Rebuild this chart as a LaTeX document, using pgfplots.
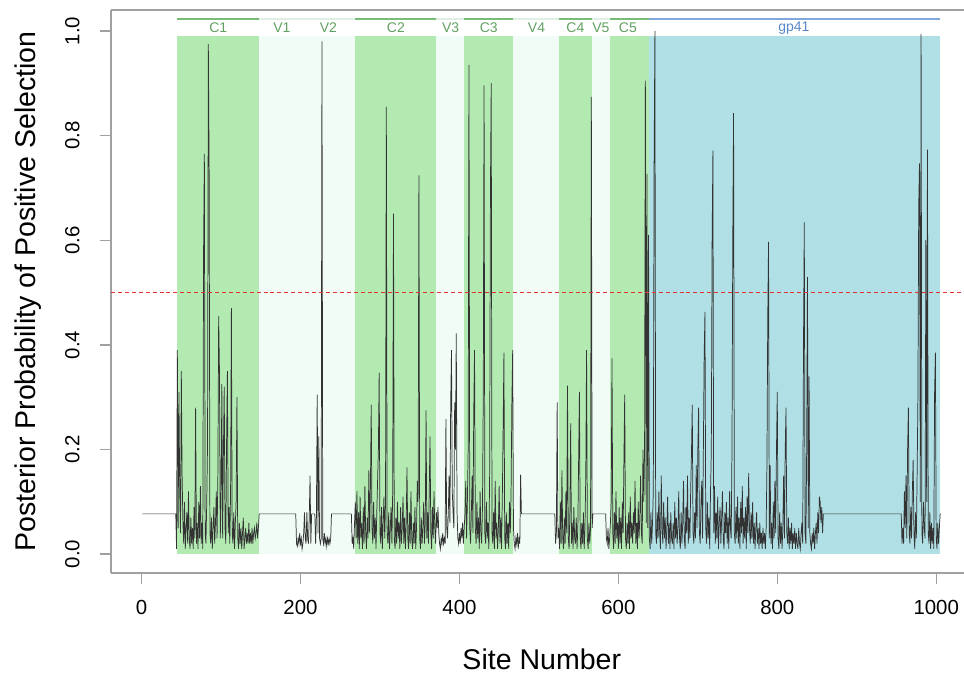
\documentclass[border=0pt]{standalone}
\usepackage{fontspec}
\setmainfont{Liberation Sans}
\usepackage{pgfplots}
\pgfplotsset{compat=1.18}

\definecolor{cgreen}{RGB}{178,234,178}
\definecolor{vpale}{RGB}{240,252,245}
\definecolor{gpblue}{RGB}{176,223,229}
\definecolor{cline}{RGB}{120,188,120}
\definecolor{vline}{RGB}{222,238,226}
\definecolor{gpline}{RGB}{128,168,220}
\definecolor{clabel}{RGB}{96,160,96}
\definecolor{gplabel}{RGB}{88,136,200}
\definecolor{framegray}{RGB}{160,160,160}
\definecolor{sitered}{RGB}{228,50,50}

\begin{document}
\begin{tikzpicture}
\path[use as bounding box] (0,0) rectangle (723pt,505.5pt);
\begin{axis}[
    at={(83.25pt,75.75pt)}, anchor=south west,
    scale only axis, width=639.75pt, height=422.25pt,
    xmin=-38.5, xmax=1035, ymin=-0.036, ymax=1.04,
    axis x line*=bottom, axis y line*=left,
    axis line style={framegray, line width=1pt},
    xtick={0,200,400,600,800,1000},
    ytick={0,0.2,0.4,0.6,0.8,1},
    tick align=outside, major tick length=8pt,
    tick style={framegray, line width=1pt},
    /pgf/number format/assume math mode=true,
    /pgf/number format/1000 sep={},
    tick label style={font=\fontsize{15.3}{18}\selectfont},
    x tick label style={yshift=-9pt},
    y tick label style={/pgf/number format/.cd, fixed, fixed zerofill, precision=1, /tikz/.cd, rotate=90, anchor=south, yshift=12pt},
    xlabel={Site Number},
    ylabel={Posterior Probability of Positive Selection},
    every axis x label/.style={at={([yshift=-57pt]rel axis cs:0.505,0)}, anchor=north, inner sep=0pt, font=\fontsize{21.4}{25}\selectfont},
    every axis y label/.style={at={([xshift=-72pt]rel axis cs:0,0.5)}, rotate=90, anchor=north, inner sep=0pt, font=\fontsize{21.4}{25}\selectfont},
]
% region blocks
\addplot[fill=cgreen, draw=none] coordinates {(45,0) (45,0.99) (148,0.99) (148,0)} -- cycle;
\addplot[fill=vpale, draw=none] coordinates {(148,0) (148,0.99) (269,0.99) (269,0)} -- cycle;
\addplot[fill=cgreen, draw=none] coordinates {(269,0) (269,0.99) (371,0.99) (371,0)} -- cycle;
\addplot[fill=vpale, draw=none] coordinates {(371,0) (371,0.99) (406,0.99) (406,0)} -- cycle;
\addplot[fill=cgreen, draw=none] coordinates {(406,0) (406,0.99) (468,0.99) (468,0)} -- cycle;
\addplot[fill=vpale, draw=none] coordinates {(468,0) (468,0.99) (525,0.99) (525,0)} -- cycle;
\addplot[fill=cgreen, draw=none] coordinates {(525,0) (525,0.99) (567,0.99) (567,0)} -- cycle;
\addplot[fill=vpale, draw=none] coordinates {(567,0) (567,0.99) (590,0.99) (590,0)} -- cycle;
\addplot[fill=cgreen, draw=none] coordinates {(590,0) (590,0.99) (638,0.99) (638,0)} -- cycle;
\addplot[fill=gpblue, draw=none] coordinates {(638,0) (638,0.99) (1005,0.99) (1005,0)} -- cycle;
% region bars on top
\addplot[cline, line width=2pt] coordinates {(45,1.023) (148,1.023)};
\addplot[vline, line width=2pt] coordinates {(148,1.023) (269,1.023)};
\addplot[cline, line width=2pt] coordinates {(269,1.023) (371,1.023)};
\addplot[vline, line width=2pt] coordinates {(371,1.023) (406,1.023)};
\addplot[cline, line width=2pt] coordinates {(406,1.023) (468,1.023)};
\addplot[vline, line width=2pt] coordinates {(468,1.023) (525,1.023)};
\addplot[cline, line width=2pt] coordinates {(525,1.023) (567,1.023)};
\addplot[vline, line width=2pt] coordinates {(567,1.023) (590,1.023)};
\addplot[cline, line width=2pt] coordinates {(590,1.023) (638,1.023)};
\addplot[gpline, line width=2pt] coordinates {(638,1.023) (1005,1.023)};
\begin{scope}[every node/.style={font=\fontsize{10.5}{12}\selectfont, inner sep=0pt}]
\node[text=clabel] at (axis cs:96.5,1.006) {C1};
\node[text=clabel] at (axis cs:176.5,1.006) {V1};
\node[text=clabel] at (axis cs:235,1.006) {V2};
\node[text=clabel] at (axis cs:320,1.006) {C2};
\node[text=clabel] at (axis cs:389,1.006) {V3};
\node[text=clabel] at (axis cs:437,1.006) {C3};
\node[text=clabel] at (axis cs:497,1.006) {V4};
\node[text=clabel] at (axis cs:546,1.006) {C4};
\node[text=clabel] at (axis cs:578,1.006) {V5};
\node[text=clabel] at (axis cs:612,1.006) {C5};
\node[text=gplabel] at (axis cs:821,1.006) {gp41};
\end{scope}
% posterior probabilities per site
\addplot[black!80, line width=0.55pt] coordinates {
(1,0.077)(43,0.077)(44,0.01)(45,0.39)(46,0.05)(47,0.31)(48,0.12)(49,0.04)(50,0.35)(51,0.15)(52,0.06)
(53,0.02)(54,0.1)(55,0.01)(56,0.05)(57,0.08)(58,0.02)(59,0.12)(60,0.03)(61,0.01)(62,0.07)
(63,0.02)(64,0.05)(65,0.01)(66,0.09)(67,0.03)(68,0.28)(69,0.02)(70,0.06)(71,0.01)(72,0.1)
(73,0.03)(74,0.13)(75,0.02)(76,0.06)(77,0.01)(78,0.58)(79,0.765)(80,0.04)(81,0.02)(82,0.1)
(83,0.21)(84,0.975)(85,0.735)(86,0.04)(87,0.02)(88,0.07)(89,0.01)(90,0.05)(91,0.09)(92,0.02)
(93,0.06)(94,0.12)(95,0.03)(96,0.15)(97,0.455)(98,0.35)(99,0.03)(100,0.1)(101,0.325)(102,0.03)
(103,0.2)(104,0.32)(105,0.05)(106,0.02)(107,0.22)(108,0.35)(109,0.04)(110,0.09)(111,0.02)(112,0.12)
(113,0.47)(114,0.04)(115,0.02)(116,0.08)(117,0.01)(118,0.06)(119,0.1)(120,0.3)(121,0.03)(122,0.01)
(123,0.06)(124,0.02)(125,0.05)(126,0.01)(127,0.04)(128,0.07)(129,0.01)(130,0.03)(131,0.05)(132,0.02)
(133,0.04)(134,0.02)(135,0.06)(136,0.02)(137,0.04)(138,0.02)(139,0.05)(140,0.02)(141,0.04)(142,0.05)
(143,0.03)(144,0.04)(145,0.06)(146,0.03)(147,0.05)(148,0.077)
(194,0.077)(195,0.02)(196,0.015)(197,0.03)(198,0.02)(199,0.04)(200,0.02)(201,0.03)(202,0.01)(203,0.02)(204,0.04)
(205,0.08)(206,0.03)(207,0.02)(208,0.08)(209,0.03)(210,0.02)(211,0.07)(212,0.15)(213,0.02)(214,0.077)
(218,0.077)(219,0.02)(220,0.07)(221,0.305)(222,0.04)(223,0.225)(224,0.03)(225,0.02)(226,0.03)(227,0.98)
(228,0.03)(229,0.02)(230,0.04)(231,0.02)(232,0.03)(233,0.015)(234,0.03)(235,0.02)(236,0.03)(237,0.02)(238,0.03)
(239,0.077)(264,0.077)(265,0.02)
(266,0.03)(267,0.01)(268,0.06)(269,0.1)(270,0.03)(271,0.12)(272,0.02)(273,0.08)(274,0.01)(275,0.11)
(276,0.03)(277,0.06)(278,0.01)(279,0.09)(280,0.02)(281,0.13)(282,0.04)(283,0.01)(284,0.07)(285,0.03)
(286,0.16)(287,0.04)(288,0.13)(289,0.286)(290,0.05)(291,0.02)(292,0.1)(293,0.03)(294,0.07)(295,0.01)
(296,0.08)(297,0.14)(298,0.2)(299,0.347)(300,0.04)(301,0.02)(302,0.09)(303,0.01)(304,0.06)(305,0.11)
(306,0.03)(307,0.1)(308,0.855)(309,0.04)(310,0.02)(311,0.08)(312,0.01)(313,0.05)(314,0.09)(315,0.02)
(316,0.12)(317,0.651)(318,0.03)(319,0.01)(320,0.07)(321,0.02)(322,0.1)(323,0.03)(324,0.06)(325,0.01)
(326,0.09)(327,0.02)(328,0.05)(329,0.11)(330,0.02)(331,0.07)(332,0.01)(333,0.06)(334,0.166)(335,0.03)
(336,0.01)(337,0.08)(338,0.02)(339,0.12)(340,0.03)(341,0.01)(342,0.06)(343,0.02)(344,0.09)(345,0.01)
(346,0.05)(347,0.14)(348,0.1)(349,0.724)(350,0.03)(351,0.01)(352,0.07)(353,0.02)(354,0.05)(355,0.1)
(356,0.02)(357,0.06)(358,0.275)(359,0.03)(360,0.08)(361,0.02)(362,0.12)(363,0.225)(364,0.04)(365,0.01)
(366,0.09)(367,0.03)(368,0.12)(369,0.05)(370,0.02)(371,0.08)
(372,0.05)(373,0.09)(374,0.04)(375,0.02)(376,0.01)(377,0.03)(378,0.02)(379,0.04)(380,0.02)(381,0.03)
(382,0.02)(383,0.258)(384,0.05)(385,0.03)(386,0.08)(387,0.15)(388,0.06)(389,0.29)(390,0.39)(391,0.12)
(392,0.08)(393,0.05)(394,0.29)(395,0.2)(396,0.422)(397,0.08)(398,0.03)(399,0.02)(400,0.04)(401,0.02)
(402,0.05)(403,0.03)(404,0.06)(405,0.02)(406,0.05)
(407,0.08)(408,0.14)(409,0.03)(410,0.1)(411,0.2)(412,0.935)(413,0.05)(414,0.02)(415,0.08)(416,0.15)
(417,0.04)(418,0.27)(419,0.39)(420,0.05)(421,0.02)(422,0.1)(423,0.03)(424,0.07)(425,0.01)(426,0.12)
(427,0.04)(428,0.02)(429,0.09)(430,0.3)(431,0.896)(432,0.04)(433,0.02)(434,0.1)(435,0.03)(436,0.06)
(437,0.01)(438,0.15)(439,0.69)(440,0.9)(441,0.04)(442,0.02)(443,0.08)(444,0.01)(445,0.14)(446,0.03)
(447,0.06)(448,0.01)(449,0.05)(450,0.13)(451,0.02)(452,0.07)(453,0.01)(454,0.11)(455,0.24)(456,0.385)
(457,0.03)(458,0.01)(459,0.08)(460,0.02)(461,0.06)(462,0.01)(463,0.1)(464,0.04)(465,0.12)(466,0.29)
(467,0.39)(468,0.05)
(469,0.02)(470,0.01)(471,0.03)(472,0.02)(473,0.04)(474,0.01)(475,0.03)(476,0.02)(477,0.152)(478,0.077)
(520,0.077)(521,0.02)(522,0.04)(523,0.29)(524,0.03)
(525,0.05)(526,0.01)(527,0.1)(528,0.02)(529,0.16)(530,0.03)(531,0.01)(532,0.07)(533,0.02)(534,0.12)
(535,0.04)(536,0.322)(537,0.03)(538,0.01)(539,0.08)(540,0.25)(541,0.02)(542,0.06)(543,0.01)(544,0.09)
(545,0.03)(546,0.02)(547,0.07)(548,0.01)(549,0.05)(550,0.18)(551,0.31)(552,0.03)(553,0.01)(554,0.06)
(555,0.02)(556,0.08)(557,0.01)(558,0.05)(559,0.15)(560,0.39)(561,0.03)(562,0.01)(563,0.06)(564,0.02)
(565,0.05)(566,0.874)(567,0.05)(568,0.077)
(584,0.077)(585,0.03)(586,0.02)(587,0.05)(588,0.01)(589,0.03)
(590,0.06)(591,0.1)(592,0.374)(593,0.04)(594,0.01)(595,0.08)(596,0.02)(597,0.12)(598,0.03)(599,0.06)
(600,0.01)(601,0.09)(602,0.02)(603,0.07)(604,0.01)(605,0.1)(606,0.04)(607,0.18)(608,0.305)(609,0.03)
(610,0.01)(611,0.06)(612,0.02)(613,0.08)(614,0.01)(615,0.11)(616,0.03)(617,0.06)(618,0.02)(619,0.08)
(620,0.04)(621,0.14)(622,0.02)(623,0.06)(624,0.01)(625,0.1)(626,0.03)(627,0.07)(628,0.15)(629,0.04)
(630,0.02)(631,0.2)(632,0.1)(633,0.2)(634,0.905)(635,0.06)(636,0.727)(637,0.05)(638,0.61)
(639,0.03)(640,0.01)(641,0.08)(642,0.02)(643,0.06)(644,0.12)(645,0.75)(646,1.0)
(647,0.04)(648,0.02)(649,0.08)(650,0.03)(651,0.12)(652,0.04)(653,0.01)(654,0.15)(655,0.05)(656,0.02)
(657,0.1)(658,0.03)(659,0.07)(660,0.01)(661,0.05)(662,0.11)(663,0.02)(664,0.06)(665,0.01)(666,0.08)
(667,0.03)(668,0.02)(669,0.06)(670,0.01)(671,0.1)(672,0.03)(673,0.07)(674,0.02)(675,0.05)(676,0.12)
(677,0.03)(678,0.01)(679,0.08)(680,0.02)(681,0.06)(682,0.14)(683,0.03)(684,0.01)(685,0.09)(686,0.04)
(687,0.15)(688,0.02)(689,0.07)(690,0.03)(691,0.12)(692,0.19)(693,0.286)(694,0.04)(695,0.02)(696,0.08)
(697,0.03)(698,0.17)(699,0.05)(700,0.2)(701,0.28)(702,0.04)(703,0.02)(704,0.1)(705,0.14)(706,0.03)
(707,0.2)(708,0.38)(709,0.463)(710,0.05)(711,0.02)(712,0.1)(713,0.03)(714,0.07)(715,0.01)(716,0.12)
(717,0.2)(718,0.6)(719,0.771)(720,0.04)(721,0.13)(722,0.02)(723,0.08)(724,0.03)(725,0.11)(726,0.01)
(727,0.06)(728,0.09)(729,0.02)(730,0.07)(731,0.12)(732,0.03)(733,0.01)(734,0.08)(735,0.04)(736,0.1)
(737,0.02)(738,0.07)(739,0.01)(740,0.12)(741,0.05)(742,0.03)(743,0.2)(744,0.6)(745,0.843)(746,0.04)
(747,0.02)(748,0.09)(749,0.03)(750,0.11)(751,0.02)(752,0.07)(753,0.01)(754,0.1)(755,0.04)(756,0.13)
(757,0.02)(758,0.07)(759,0.03)(760,0.09)(761,0.01)(762,0.11)(763,0.04)(764,0.155)(765,0.05)(766,0.02)
(767,0.08)(768,0.03)(769,0.1)(770,0.02)(771,0.06)(772,0.01)(773,0.05)(774,0.08)(775,0.02)(776,0.05)
(777,0.01)(778,0.06)(779,0.02)(780,0.04)(781,0.01)(782,0.05)(783,0.02)(784,0.04)(785,0.01)(786,0.05)
(787,0.17)(788,0.45)(789,0.597)(790,0.03)(791,0.17)(792,0.02)(793,0.06)(794,0.01)(795,0.1)(796,0.03)
(797,0.14)(798,0.04)(799,0.2)(800,0.31)(801,0.03)(802,0.01)(803,0.08)(804,0.02)(805,0.06)(806,0.01)
(807,0.05)(808,0.15)(809,0.03)(810,0.2)(811,0.28)(812,0.04)(813,0.02)(814,0.07)(815,0.01)(816,0.05)
(817,0.02)(818,0.06)(819,0.01)(820,0.04)(821,0.02)(822,0.05)(823,0.01)(824,0.04)(825,0.02)(826,0.01)
(827,0.05)(828,0.02)(829,0.01)(830,0.04)(831,0.06)(832,0.02)(833,0.4)(834,0.634)(835,0.04)(836,0.02)
(837,0.2)(838,0.53)(839,0.05)(840,0.34)(841,0.04)(842,0.02)(843,0.01)(844,0.04)(845,0.02)(846,0.05)
(847,0.01)(848,0.04)(849,0.06)(850,0.02)(851,0.08)(852,0.04)(853,0.11)(854,0.1)(855,0.06)(856,0.09)
(857,0.04)(858,0.077)
(956,0.077)(957,0.02)(958,0.05)(959,0.02)(960,0.12)(961,0.05)(962,0.15)(963,0.03)(964,0.2)(965,0.28)
(966,0.04)(967,0.02)(968,0.09)(969,0.03)(970,0.12)(971,0.18)(972,0.04)(973,0.01)(974,0.08)(975,0.03)
(976,0.15)(977,0.3)(978,0.665)(979,0.747)(980,0.1)(981,0.994)(982,0.04)(983,0.02)(984,0.1)(985,0.05)
(986,0.03)(987,0.6)(988,0.1)(989,0.773)(990,0.04)(991,0.02)(992,0.08)(993,0.01)(994,0.06)(995,0.02)
(996,0.05)(997,0.01)(998,0.31)(999,0.385)(1000,0.03)(1001,0.01)(1002,0.06)(1003,0.02)(1004,0.05)(1005,0.077)(1006,0.077)
};
% threshold
\addplot[sitered, line width=0.7pt, dash pattern=on 3pt off 2.2pt] coordinates {(-38.5,0.5) (1035,0.5)};
% top of box
\draw[framegray, line width=1pt] (rel axis cs:0,1) -- (rel axis cs:1,1);
\end{axis}
\end{tikzpicture}
\end{document}
